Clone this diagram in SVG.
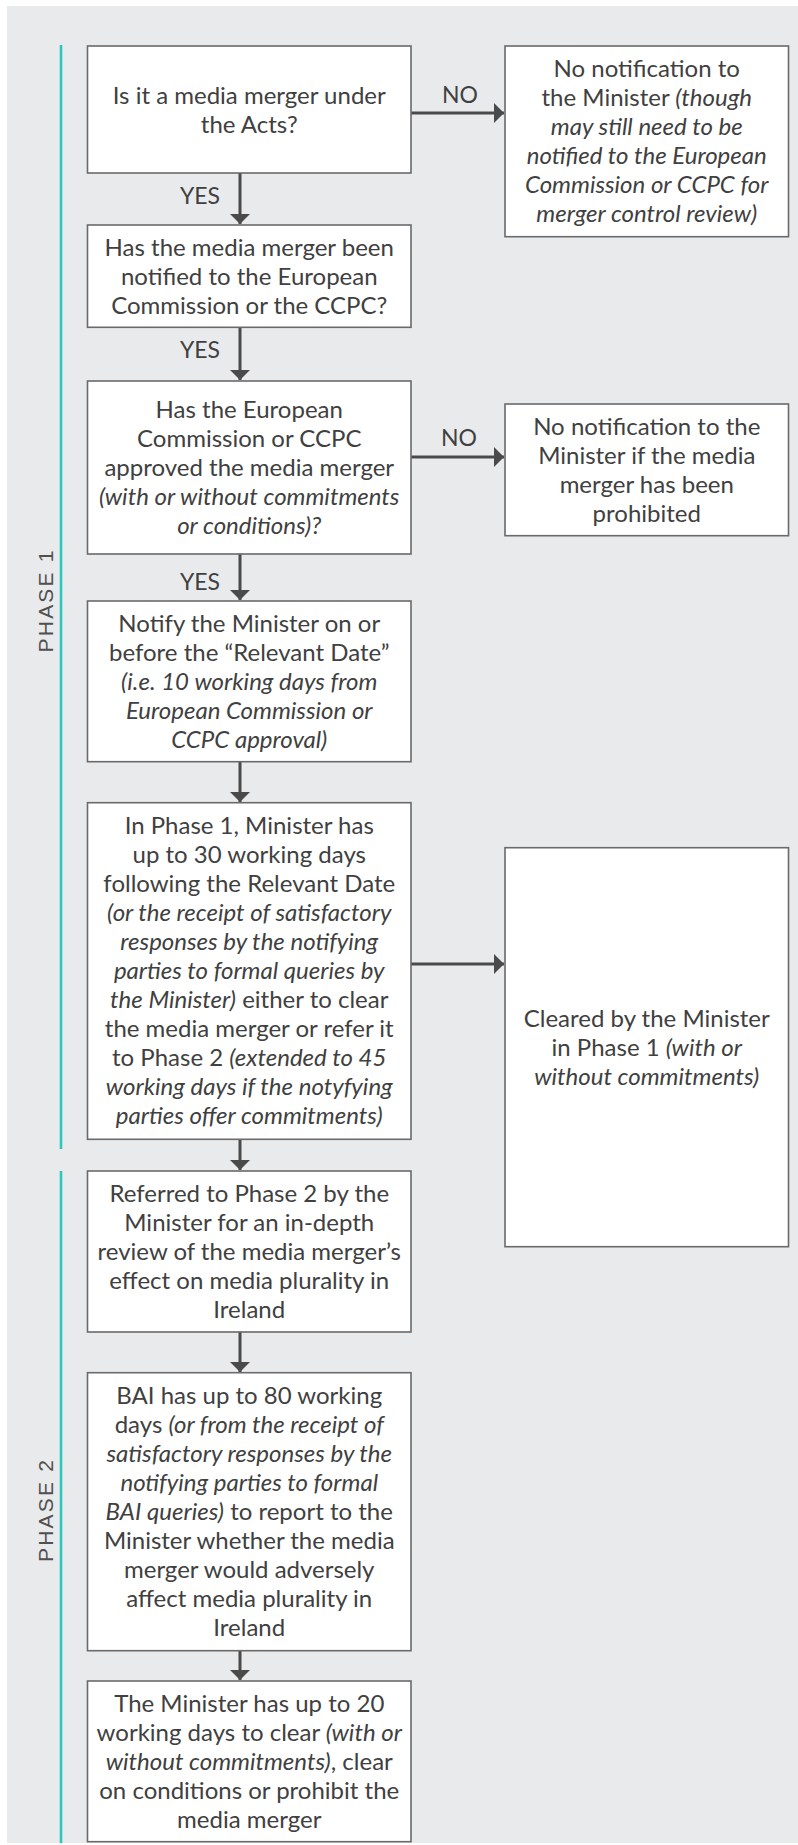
<svg xmlns="http://www.w3.org/2000/svg" width="798" height="1845" viewBox="0 0 798 1845">
<style>
.bg{fill:#e9eaec}
.phase-line{stroke:#2cc7be;stroke-width:2.6}
.phase{font-family:"Liberation Sans",Arial,sans-serif;font-size:21px;letter-spacing:2.2px;fill:#505050;text-anchor:middle}
.box{fill:#fff;stroke:#6a6a6a;stroke-width:1.6}
.t{font-family:Lato,"Open Sans","Liberation Sans",sans-serif;font-size:24px;fill:#404040;text-anchor:middle}
.i{font-style:italic}
.lbl{font-family:Lato,"Open Sans","Liberation Sans",sans-serif;font-size:23px;fill:#404040;text-anchor:middle}
.c{stroke:#4a4a4a;stroke-width:3;fill:none}
</style>
<defs>
<marker id="ah" markerUnits="userSpaceOnUse" markerWidth="12" markerHeight="22" refX="10" refY="10" orient="auto" viewBox="0 0 12 20">
<path d="M0,0 L10,10 L0,20 Z" fill="#4a4a4a"/>
</marker>
</defs>
<rect class="bg" x="7" y="6" width="791" height="1837"/>
<g id="phase1">
<line class="phase-line" x1="61" y1="45" x2="61" y2="1149"/>
<text class="phase" transform="translate(52.5,600.4) rotate(-90)">PHASE 1</text>
</g>
<g id="phase2">
<line class="phase-line" x1="61" y1="1171" x2="61" y2="1843"/>
<text class="phase" transform="translate(52.5,1510) rotate(-90)">PHASE 2</text>
</g>
<g id="connectors">
<line class="c" x1="411" y1="113" x2="504" y2="113" marker-end="url(#ah)"/>
<text class="lbl" x="460" y="103">NO</text>
<line class="c" x1="240" y1="173" x2="240" y2="224" marker-end="url(#ah)"/>
<text class="lbl" x="200" y="204">YES</text>
<line class="c" x1="240" y1="327" x2="240" y2="380" marker-end="url(#ah)"/>
<text class="lbl" x="200" y="358">YES</text>
<line class="c" x1="411" y1="457" x2="504" y2="457" marker-end="url(#ah)"/>
<text class="lbl" x="459" y="446">NO</text>
<line class="c" x1="240" y1="554" x2="240" y2="600" marker-end="url(#ah)"/>
<text class="lbl" x="200" y="590">YES</text>
<line class="c" x1="240" y1="762" x2="240" y2="802" marker-end="url(#ah)"/>
<line class="c" x1="411" y1="964" x2="504" y2="964" marker-end="url(#ah)"/>
<line class="c" x1="240" y1="1139" x2="240" y2="1170" marker-end="url(#ah)"/>
<line class="c" x1="240" y1="1332" x2="240" y2="1372" marker-end="url(#ah)"/>
<line class="c" x1="240" y1="1651" x2="240" y2="1680" marker-end="url(#ah)"/>
</g>
<g id="box1">
<rect class="box" x="87.5" y="46" width="323.5" height="127"/>
<text class="t" x="249.25" y="104">Is it a media merger under</text>
<text class="t" x="249.25" y="133">the Acts?</text>
</g>
<g id="box2">
<rect class="box" x="87.5" y="225" width="323.5" height="102.3"/>
<text class="t" x="249.25" y="256">Has the media merger been</text>
<text class="t" x="249.25" y="285">notified to the European</text>
<text class="t" x="249.25" y="314">Commission or the CCPC?</text>
</g>
<g id="box3">
<rect class="box" x="87.5" y="381" width="323.5" height="173"/>
<text class="t" x="249.25" y="418">Has the European</text>
<text class="t" x="249.25" y="447">Commission or CCPC</text>
<text class="t" x="249.25" y="476">approved the media merger</text>
<text class="t i" x="249.25" y="505">(with or without commitments</text>
<text class="t i" x="249.25" y="534">or conditions)?</text>
</g>
<g id="box4">
<rect class="box" x="87.5" y="601" width="323.5" height="160.7"/>
<text class="t" x="249.25" y="632">Notify the Minister on or</text>
<text class="t" x="249.25" y="661">before the “Relevant Date”</text>
<text class="t i" x="249.25" y="690">(i.e. 10 working days from</text>
<text class="t i" x="249.25" y="719">European Commission or</text>
<text class="t i" x="249.25" y="748">CCPC approval)</text>
</g>
<g id="box5">
<rect class="box" x="87.5" y="802.7" width="323.5" height="336.6"/>
<text class="t" x="249.25" y="834">In Phase 1, Minister has</text>
<text class="t" x="249.25" y="863">up to 30 working days</text>
<text class="t" x="249.25" y="892">following the Relevant Date</text>
<text class="t i" x="249.25" y="921">(or the receipt of satisfactory</text>
<text class="t i" x="249.25" y="950">responses by the notifying</text>
<text class="t i" x="249.25" y="979">parties to formal queries by</text>
<text class="t" x="249.25" y="1008"><tspan class="i">the Minister)</tspan> either to clear</text>
<text class="t" x="249.25" y="1037">the media merger or refer it</text>
<text class="t" x="249.25" y="1066">to Phase 2 <tspan class="i">(extended to 45</tspan></text>
<text class="t i" x="249.25" y="1095">working days if  the notyfying</text>
<text class="t i" x="249.25" y="1124">parties offer commitments)</text>
</g>
<g id="box6">
<rect class="box" x="87.5" y="1171" width="323.5" height="161"/>
<text class="t" x="249.25" y="1202">Referred to Phase 2 by the</text>
<text class="t" x="249.25" y="1231">Minister for an in-depth</text>
<text class="t" x="249.25" y="1260">review of the media merger’s</text>
<text class="t" x="249.25" y="1289">effect on media plurality in</text>
<text class="t" x="249.25" y="1318">Ireland</text>
</g>
<g id="box7">
<rect class="box" x="87.5" y="1372.7" width="323.5" height="278"/>
<text class="t" x="249.25" y="1404">BAI has up to 80 working</text>
<text class="t" x="249.25" y="1433">days <tspan class="i">(or from the receipt of</tspan></text>
<text class="t i" x="249.25" y="1462">satisfactory responses by the</text>
<text class="t i" x="249.25" y="1491">notifying parties to formal</text>
<text class="t" x="249.25" y="1520"><tspan class="i">BAI queries)</tspan> to report to the</text>
<text class="t" x="249.25" y="1549">Minister whether the media</text>
<text class="t" x="249.25" y="1578">merger would adversely</text>
<text class="t" x="249.25" y="1607">affect media plurality in</text>
<text class="t" x="249.25" y="1636">Ireland</text>
</g>
<g id="box8">
<rect class="box" x="87.5" y="1681" width="323.5" height="160.7"/>
<text class="t" x="249.25" y="1712">The Minister has up to 20</text>
<text class="t" x="249.25" y="1741">working days to clear <tspan class="i">(with or</tspan></text>
<text class="t" x="249.25" y="1770"><tspan class="i">without commitments)</tspan>, clear</text>
<text class="t" x="249.25" y="1799">on conditions or prohibit the</text>
<text class="t" x="249.25" y="1828">media merger</text>
</g>
<g id="right1">
<rect class="box" x="505" y="46" width="283.5" height="190.7"/>
<text class="t" x="646.75" y="77">No notification to</text>
<text class="t" x="646.75" y="106">the Minister <tspan class="i">(though</tspan></text>
<text class="t i" x="646.75" y="135">may still need to be</text>
<text class="t i" x="646.75" y="164">notified to the European</text>
<text class="t i" x="646.75" y="193">Commission or CCPC for</text>
<text class="t i" x="646.75" y="222">merger control review)</text>
</g>
<g id="right2">
<rect class="box" x="505" y="404" width="283.5" height="131.7"/>
<text class="t" x="646.75" y="435">No notification to the</text>
<text class="t" x="646.75" y="464">Minister if the media</text>
<text class="t" x="646.75" y="493">merger has been</text>
<text class="t" x="646.75" y="522">prohibited</text>
</g>
<g id="right3">
<rect class="box" x="505" y="847.7" width="283.5" height="399"/>
<text class="t" x="646.75" y="1027">Cleared by the Minister</text>
<text class="t" x="646.75" y="1056">in Phase 1 <tspan class="i">(with or</tspan></text>
<text class="t i" x="646.75" y="1085">without commitments)</text>
</g>
</svg>
